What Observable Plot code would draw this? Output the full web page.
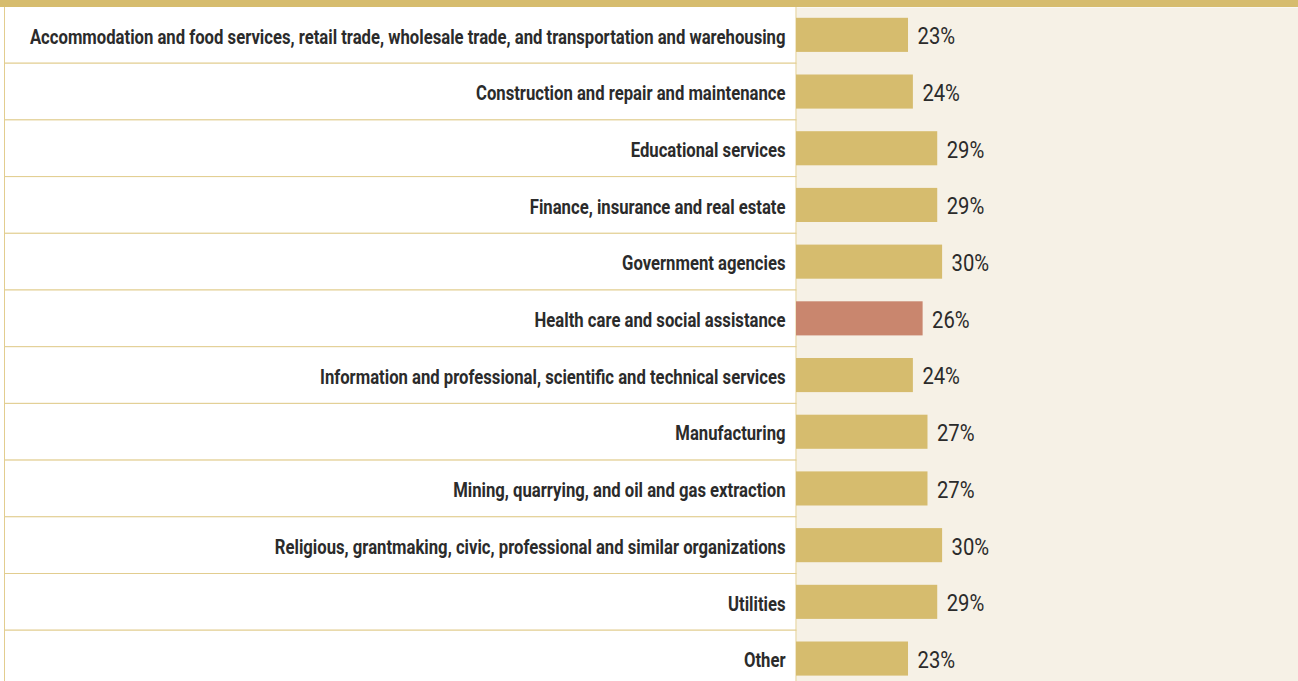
<!DOCTYPE html>
<html>
<head>
<meta charset="utf-8">
<script src="https://cdn.jsdelivr.net/npm/d3@7"></script>
<script src="https://cdn.jsdelivr.net/npm/@observablehq/plot@0.6"></script>
<style>
  html, body { margin: 0; padding: 0; background: #ffffff; }
  #chart { width: 1298px; height: 674px; border-top: 7px solid #d6bc6e; overflow: hidden; }
  #chart svg { display: block; }
</style>
</head>
<body>
<div id="chart"></div>
<script>
const categories = [
  "Accommodation and food services, retail trade, wholesale trade, and transportation and warehousing",
  "Construction and repair and maintenance",
  "Educational services",
  "Finance, insurance and real estate",
  "Government agencies",
  "Health care and social assistance",
  "Information and professional, scientific and technical services",
  "Manufacturing",
  "Mining, quarrying, and oil and gas extraction",
  "Religious, grantmaking, civic, professional and similar organizations",
  "Utilities",
  "Other"
];
const values = [23, 24, 29, 29, 30, 26, 24, 27, 27, 30, 29, 23];
const highlighted = ["Health care and social assistance"];

const data = categories.map((c, i) => ({category: c, value: values[i], hi: highlighted.includes(c)}));

const GOLD = "#d6bc6e";
const HILITE = "#c9866e";
const BEIGE = "#f6f1e6";
const LINE = "#e2cd8f";
const INK = "#2b2b2b";
const FONT = "Roboto, 'Liberation Sans', sans-serif";

const W = 1298, H = 674, PANEL = 796;
const pxPerPct = 4.87;
const xMax = (W - PANEL) / pxPerPct;
const leftEdge = -(PANEL - 4.5) / pxPerPct;
const rowH = 56.7;

const chart = Plot.plot({
  width: W,
  height: H,
  marginTop: 0, marginBottom: 0, marginRight: 0, marginLeft: PANEL,
  style: {background: "transparent", overflow: "hidden"},
  x: {domain: [0, xMax], range: [PANEL, W], axis: null},
  y: {domain: categories, range: [-0.5, rowH * categories.length - 0.5], padding: 0, round: false, axis: null},
  marks: [
    Plot.frame({fill: BEIGE, stroke: null}),
    Plot.barX(data, {y: "category", x1: leftEdge, x2: 0, fill: "#ffffff", stroke: LINE, strokeWidth: 1}),
    Plot.barX(data, {y: "category", x: "value", fill: d => d.hi ? HILITE : GOLD, insetTop: 11.3, insetBottom: 11.3}),
    Plot.text(data, {
      y: "category", x: 0, text: "category", textAnchor: "end", dx: -11, dy: 1.5,
      fontSize: 21, fontWeight: "bold", fill: INK, fontFamily: FONT,
      className: "cat-label"
    }),
    Plot.text(data, {
      y: "category", x: "value", text: d => d.value + "%", textAnchor: "start", dx: 9, dy: 1.5,
      fontSize: 23, fill: INK, fontFamily: FONT,
      className: "val-label"
    })
  ]
});
document.getElementById("chart").appendChild(chart);

// Emulate the condensed typeface of the original by compressing glyphs horizontally
function squeeze(selector, k) {
  chart.querySelectorAll(selector + " text").forEach(t => {
    const tr = t.getAttribute("transform") || "";
    t.setAttribute("transform", tr + ` scale(${k},1)`);
  });
}
const first = chart.querySelector(".cat-label text");
const k = first ? 756 / first.getComputedTextLength() : 0.8;
squeeze(".cat-label", k);
squeeze(".val-label", 0.88);
</script>
</body>
</html>
